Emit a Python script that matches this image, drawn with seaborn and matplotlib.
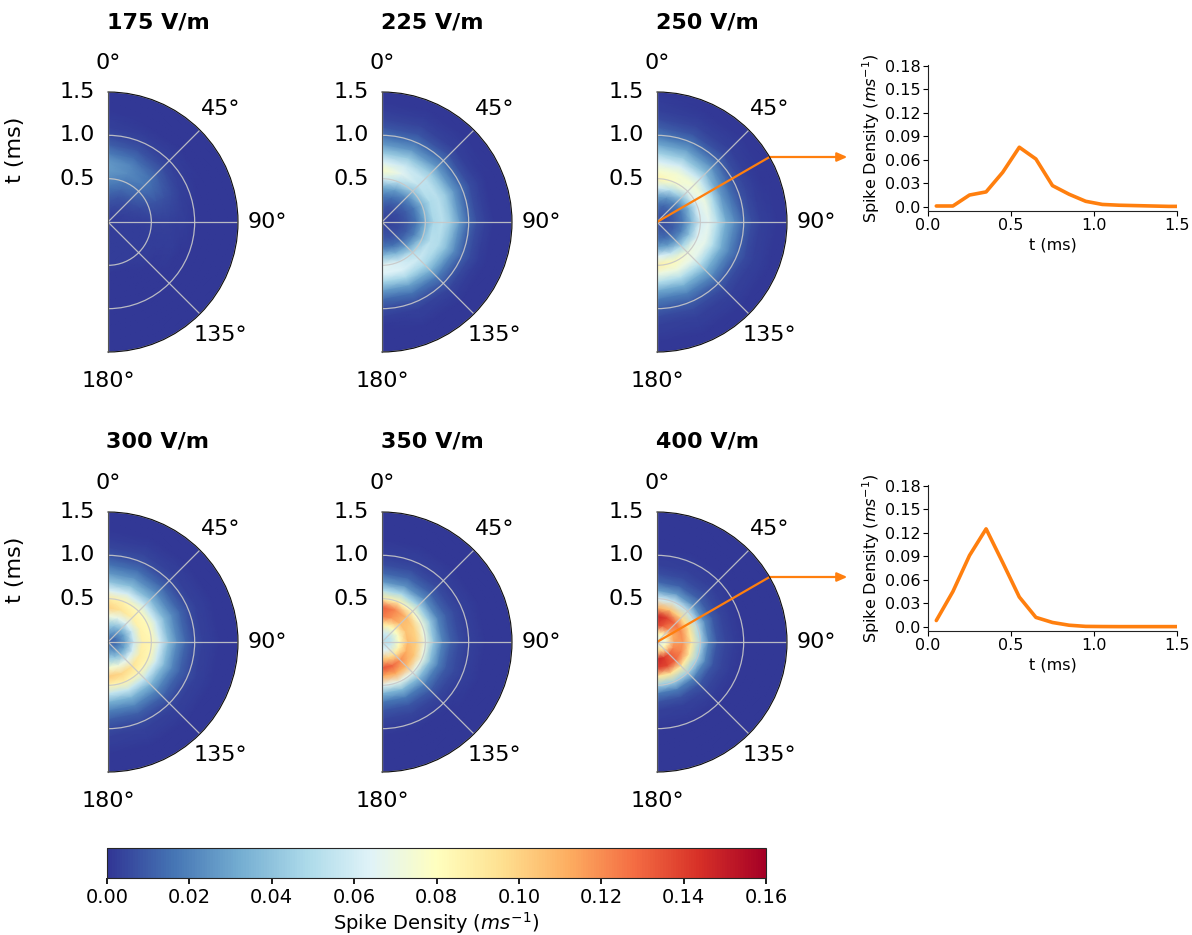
import numpy as np
import pandas as pd
import matplotlib
matplotlib.use("Agg")
import matplotlib.pyplot as plt
import seaborn as sns

# ---------------- data ----------------
field_labels = ["175 V/m", "225 V/m", "250 V/m", "300 V/m", "350 V/m", "400 V/m"]
theta_deg = [0, 22.5, 45, 67.5, 90, 112.5, 135, 157.5, 180]
r_ms = [0.0, 0.1, 0.2, 0.3, 0.4, 0.5, 0.6, 0.7, 0.8, 0.9, 1.0, 1.1, 1.2, 1.3, 1.4, 1.5]

dens_175 = [
    [0.003, 0.004, 0.006, 0.010, 0.016, 0.022, 0.027, 0.026, 0.018, 0.010, 0.005, 0.003, 0.002, 0.001, 0.001, 0.001],
    [0.003, 0.003, 0.005, 0.008, 0.013, 0.018, 0.022, 0.021, 0.014, 0.008, 0.004, 0.002, 0.001, 0.001, 0.001, 0.001],
    [0.003, 0.003, 0.004, 0.006, 0.010, 0.014, 0.017, 0.015, 0.010, 0.006, 0.003, 0.002, 0.001, 0.001, 0.001, 0.001],
    [0.003, 0.002, 0.003, 0.004, 0.005, 0.007, 0.008, 0.007, 0.005, 0.003, 0.002, 0.001, 0.001, 0.001, 0.001, 0.001],
    [0.003, 0.002, 0.002, 0.002, 0.002, 0.003, 0.003, 0.003, 0.002, 0.002, 0.001, 0.001, 0.001, 0.001, 0.001, 0.001],
    [0.003, 0.002, 0.002, 0.002, 0.002, 0.002, 0.002, 0.002, 0.002, 0.001, 0.001, 0.001, 0.001, 0.001, 0.001, 0.001],
    [0.003, 0.002, 0.002, 0.002, 0.002, 0.002, 0.002, 0.001, 0.001, 0.001, 0.001, 0.001, 0.001, 0.001, 0.001, 0.001],
    [0.003, 0.002, 0.002, 0.002, 0.002, 0.002, 0.001, 0.001, 0.001, 0.001, 0.001, 0.001, 0.001, 0.001, 0.001, 0.001],
    [0.003, 0.002, 0.002, 0.002, 0.002, 0.002, 0.001, 0.001, 0.001, 0.001, 0.001, 0.001, 0.001, 0.001, 0.001, 0.001],
]
dens_225 = [
    [0.004, 0.006, 0.010, 0.018, 0.032, 0.060, 0.078, 0.062, 0.042, 0.026, 0.015, 0.008, 0.004, 0.002, 0.001, 0.001],
    [0.004, 0.005, 0.008, 0.015, 0.028, 0.052, 0.066, 0.058, 0.042, 0.026, 0.015, 0.008, 0.004, 0.002, 0.001, 0.001],
    [0.004, 0.004, 0.007, 0.012, 0.022, 0.040, 0.054, 0.054, 0.042, 0.026, 0.015, 0.007, 0.003, 0.002, 0.001, 0.001],
    [0.004, 0.004, 0.006, 0.010, 0.018, 0.034, 0.049, 0.052, 0.042, 0.026, 0.014, 0.006, 0.003, 0.001, 0.001, 0.001],
    [0.004, 0.004, 0.005, 0.009, 0.016, 0.032, 0.048, 0.052, 0.042, 0.026, 0.013, 0.006, 0.003, 0.001, 0.001, 0.001],
    [0.004, 0.004, 0.006, 0.010, 0.020, 0.038, 0.052, 0.050, 0.038, 0.022, 0.011, 0.005, 0.002, 0.001, 0.001, 0.001],
    [0.004, 0.005, 0.007, 0.013, 0.028, 0.050, 0.058, 0.048, 0.033, 0.018, 0.009, 0.004, 0.002, 0.001, 0.001, 0.001],
    [0.004, 0.005, 0.008, 0.016, 0.036, 0.060, 0.063, 0.047, 0.028, 0.015, 0.007, 0.003, 0.002, 0.001, 0.001, 0.001],
    [0.004, 0.006, 0.009, 0.018, 0.040, 0.066, 0.064, 0.045, 0.026, 0.013, 0.006, 0.003, 0.001, 0.001, 0.001, 0.001],
]
dens_250 = [
    [0.008, 0.010, 0.015, 0.030, 0.060, 0.085, 0.075, 0.062, 0.045, 0.030, 0.018, 0.010, 0.005, 0.003, 0.002, 0.001],
    [0.008, 0.009, 0.013, 0.025, 0.052, 0.078, 0.074, 0.060, 0.042, 0.028, 0.016, 0.008, 0.004, 0.002, 0.001, 0.001],
    [0.008, 0.008, 0.012, 0.020, 0.040, 0.068, 0.074, 0.058, 0.038, 0.024, 0.013, 0.006, 0.003, 0.002, 0.001, 0.001],
    [0.008, 0.006, 0.010, 0.018, 0.035, 0.062, 0.070, 0.048, 0.026, 0.015, 0.007, 0.004, 0.002, 0.001, 0.001, 0.001],
    [0.008, 0.006, 0.010, 0.018, 0.036, 0.060, 0.066, 0.050, 0.032, 0.022, 0.012, 0.006, 0.003, 0.002, 0.001, 0.001],
    [0.008, 0.007, 0.011, 0.020, 0.040, 0.065, 0.068, 0.050, 0.032, 0.020, 0.011, 0.005, 0.003, 0.002, 0.001, 0.001],
    [0.008, 0.008, 0.012, 0.024, 0.048, 0.072, 0.068, 0.050, 0.032, 0.020, 0.010, 0.005, 0.003, 0.002, 0.001, 0.001],
    [0.008, 0.009, 0.014, 0.028, 0.058, 0.082, 0.070, 0.050, 0.032, 0.019, 0.010, 0.005, 0.003, 0.002, 0.001, 0.001],
    [0.008, 0.010, 0.015, 0.030, 0.064, 0.088, 0.070, 0.050, 0.030, 0.018, 0.010, 0.005, 0.003, 0.002, 0.001, 0.001],
]
dens_300 = [
    [0.018, 0.028, 0.044, 0.072, 0.100, 0.090, 0.062, 0.040, 0.025, 0.015, 0.008, 0.004, 0.002, 0.001, 0.001, 0.001],
    [0.016, 0.024, 0.040, 0.068, 0.094, 0.085, 0.060, 0.038, 0.024, 0.014, 0.007, 0.004, 0.002, 0.001, 0.001, 0.001],
    [0.013, 0.020, 0.034, 0.062, 0.088, 0.082, 0.058, 0.036, 0.022, 0.012, 0.006, 0.003, 0.002, 0.001, 0.001, 0.001],
    [0.010, 0.016, 0.030, 0.058, 0.086, 0.082, 0.058, 0.036, 0.022, 0.012, 0.006, 0.003, 0.002, 0.001, 0.001, 0.001],
    [0.010, 0.015, 0.029, 0.058, 0.087, 0.084, 0.060, 0.038, 0.022, 0.012, 0.006, 0.003, 0.002, 0.001, 0.001, 0.001],
    [0.010, 0.016, 0.031, 0.060, 0.089, 0.084, 0.058, 0.036, 0.021, 0.011, 0.006, 0.003, 0.002, 0.001, 0.001, 0.001],
    [0.013, 0.020, 0.036, 0.066, 0.094, 0.084, 0.056, 0.034, 0.020, 0.011, 0.005, 0.003, 0.002, 0.001, 0.001, 0.001],
    [0.016, 0.024, 0.042, 0.072, 0.099, 0.086, 0.056, 0.034, 0.020, 0.010, 0.005, 0.003, 0.002, 0.001, 0.001, 0.001],
    [0.018, 0.027, 0.046, 0.076, 0.103, 0.086, 0.055, 0.033, 0.019, 0.010, 0.005, 0.003, 0.002, 0.001, 0.001, 0.001],
]
dens_350 = [
    [0.050, 0.060, 0.090, 0.125, 0.132, 0.090, 0.050, 0.025, 0.012, 0.006, 0.003, 0.002, 0.001, 0.001, 0.001, 0.001],
    [0.050, 0.058, 0.085, 0.118, 0.122, 0.085, 0.048, 0.024, 0.012, 0.006, 0.003, 0.002, 0.001, 0.001, 0.001, 0.001],
    [0.050, 0.055, 0.080, 0.108, 0.108, 0.078, 0.045, 0.022, 0.011, 0.005, 0.003, 0.002, 0.001, 0.001, 0.001, 0.001],
    [0.050, 0.054, 0.078, 0.105, 0.100, 0.072, 0.042, 0.020, 0.010, 0.005, 0.003, 0.002, 0.001, 0.001, 0.001, 0.001],
    [0.050, 0.055, 0.080, 0.108, 0.100, 0.070, 0.040, 0.020, 0.010, 0.005, 0.003, 0.002, 0.001, 0.001, 0.001, 0.001],
    [0.050, 0.057, 0.085, 0.112, 0.104, 0.070, 0.038, 0.019, 0.009, 0.005, 0.003, 0.002, 0.001, 0.001, 0.001, 0.001],
    [0.050, 0.060, 0.092, 0.120, 0.108, 0.068, 0.036, 0.018, 0.009, 0.004, 0.002, 0.001, 0.001, 0.001, 0.001, 0.001],
    [0.050, 0.064, 0.100, 0.130, 0.112, 0.068, 0.035, 0.017, 0.008, 0.004, 0.002, 0.001, 0.001, 0.001, 0.001, 0.001],
    [0.050, 0.066, 0.105, 0.135, 0.112, 0.066, 0.034, 0.016, 0.008, 0.004, 0.002, 0.001, 0.001, 0.001, 0.001, 0.001],
]
dens_400 = [
    [0.060, 0.090, 0.140, 0.148, 0.110, 0.060, 0.028, 0.012, 0.006, 0.003, 0.002, 0.001, 0.001, 0.001, 0.001, 0.001],
    [0.060, 0.085, 0.132, 0.140, 0.105, 0.058, 0.026, 0.011, 0.005, 0.003, 0.002, 0.001, 0.001, 0.001, 0.001, 0.001],
    [0.060, 0.078, 0.120, 0.128, 0.098, 0.054, 0.024, 0.010, 0.005, 0.003, 0.002, 0.001, 0.001, 0.001, 0.001, 0.001],
    [0.060, 0.074, 0.112, 0.120, 0.094, 0.050, 0.022, 0.009, 0.004, 0.002, 0.001, 0.001, 0.001, 0.001, 0.001, 0.001],
    [0.060, 0.075, 0.115, 0.118, 0.090, 0.048, 0.020, 0.008, 0.004, 0.002, 0.001, 0.001, 0.001, 0.001, 0.001, 0.001],
    [0.060, 0.080, 0.122, 0.122, 0.090, 0.046, 0.020, 0.008, 0.004, 0.002, 0.001, 0.001, 0.001, 0.001, 0.001, 0.001],
    [0.060, 0.088, 0.132, 0.130, 0.090, 0.045, 0.019, 0.008, 0.004, 0.002, 0.001, 0.001, 0.001, 0.001, 0.001, 0.001],
    [0.060, 0.095, 0.142, 0.138, 0.092, 0.044, 0.018, 0.007, 0.003, 0.002, 0.001, 0.001, 0.001, 0.001, 0.001, 0.001],
    [0.060, 0.098, 0.148, 0.140, 0.092, 0.044, 0.018, 0.007, 0.003, 0.002, 0.001, 0.001, 0.001, 0.001, 0.001, 0.001],
]
densities = [dens_175, dens_225, dens_250, dens_300, dens_350, dens_400]

# profile along the 60 degree direction
profile_angle_deg = 60
t_line = [0.05, 0.15, 0.25, 0.35, 0.45, 0.55, 0.65, 0.75, 0.85, 0.95, 1.05, 1.15, 1.25, 1.35, 1.45, 1.5]
line_250 = [0.001, 0.001, 0.015, 0.019, 0.044, 0.076, 0.061, 0.027, 0.016, 0.007, 0.003, 0.002, 0.0015, 0.001, 0.0005, 0.0005]
line_400 = [0.008, 0.045, 0.091, 0.125, 0.082, 0.038, 0.012, 0.0055, 0.002, 0.0005, 0.0003, 0.0002, 0.0002, 0.0002, 0.0002, 0.0002]

theta_ticks = [0, 45, 90, 135, 180]
theta_ticklabels = ["0°", "45°", "90°", "135°", "180°"]
r_ticks = [0.5, 1.0, 1.5]
r_ticklabels = ["0.5", "1.0", "1.5"]
line_yticks = [0.0, 0.03, 0.06, 0.09, 0.12, 0.15, 0.18]
line_yticklabels = ["0.0", "0.03", "0.06", "0.09", "0.12", "0.15", "0.18"]
line_xticks = [0.0, 0.5, 1.0, 1.5]
cbar_ticks = [0.00, 0.02, 0.04, 0.06, 0.08, 0.10, 0.12, 0.14, 0.16]

# ---------------- style ----------------
sns.set_theme(style="ticks")
plt.rcParams["font.family"] = ["DejaVu Sans"]
plt.rcParams["mathtext.fontset"] = "dejavusans"
for k in ["text.color", "axes.labelcolor", "xtick.color", "ytick.color"]:
    plt.rcParams[k] = "black"

W, H = 1192, 935
fig = plt.figure(figsize=(W / 100, H / 100), dpi=100)
cmap = plt.get_cmap("RdYlBu_r")
orange = "#ff7f0e"

# polar panel geometry (pixels): left edge x of wedge, top y, radius
panel_left = [108, 382, 657, 108, 382, 657]
panel_top = [92, 92, 92, 512, 512, 512]
R = 130

T, Rg = np.meshgrid(np.deg2rad(theta_deg), r_ms, indexing="ij")
mappable = None
polar_axes = []
for i in range(6):
    x0, y0 = panel_left[i], panel_top[i]
    rect = [(x0 - R / 2) / W, 1 - (y0 + 2 * R) / H, 2 * R / W, 2 * R / H]
    ax = fig.add_axes(rect, projection="polar")
    ax.set_theta_zero_location("N")
    ax.set_theta_direction(-1)
    ax.set_thetamin(0)
    ax.set_thetamax(180)
    ax.set_facecolor(cmap(0.0))
    ax.set_axisbelow(False)
    mappable = ax.pcolormesh(T, Rg, np.array(densities[i]), cmap=cmap,
                             vmin=0, vmax=0.16, shading="gouraud")
    ax.set_ylim(0, 1.5)
    ax.set_yticks(r_ticks)
    ax.set_yticklabels(r_ticklabels)
    ax.set_xticks(np.deg2rad(theta_ticks))
    ax.set_xticklabels(theta_ticklabels)
    ax.tick_params(axis="x", labelsize=16, pad=8)
    ax.tick_params(axis="y", labelsize=16)
    ax.grid(True, color="#c8c8c8", lw=0.9, alpha=0.9)
    for name, sp in ax.spines.items():
        sp.set_zorder(10)
        sp.set_linewidth(0.8)
        sp.set_color("#111111" if name == "polar" else "#555555")
    fig.text((x0 + 50) / W, 1 - (y0 - 70) / H, field_labels[i],
             fontsize=16, fontweight="bold", ha="center", va="center")
    polar_axes.append(ax)

for yc in [150, 570]:
    fig.text(15 / W, 1 - yc / H, "t (ms)", rotation=90, fontsize=16,
             ha="center", va="center")

# orange direction lines + arrows
for ax in [polar_axes[2], polar_axes[5]]:
    th = np.deg2rad(profile_angle_deg)
    ax.plot([th, th], [0, 1.5], color=orange, lw=1.6, zorder=5)
    ax.annotate("", xy=(th, 1.5), xycoords="data",
                xytext=(56, 0), textcoords="offset points",
                arrowprops=dict(arrowstyle="<|-,head_length=0.5,head_width=0.22",
                                color=orange, lw=1.6, shrinkA=0, shrinkB=0),
                annotation_clip=False)

# line plots
line_rects = [[928 / W, 1 - 210.7 / H, 249 / W, 145.7 / H],
              [928 / W, 1 - 630.7 / H, 249 / W, 145.7 / H]]
for rect, vals in zip(line_rects, [line_250, line_400]):
    lax = fig.add_axes(rect)
    df = pd.DataFrame({"t": t_line, "d": vals})
    sns.lineplot(data=df, x="t", y="d", ax=lax, color=orange, lw=2.6)
    lax.set_xlim(0, 1.5)
    lax.set_ylim(-0.005, 0.181)
    lax.set_yticks(line_yticks)
    lax.set_yticklabels(line_yticklabels)
    lax.set_xticks(line_xticks)
    lax.set_xticklabels(["0.0", "0.5", "1.0", "1.5"])
    lax.tick_params(labelsize=11.5, length=3.5, width=0.8, pad=2)
    lax.set_xlabel("t (ms)", fontsize=11.5, labelpad=3)
    lax.set_ylabel("Spike Density ($ms^{-1}$)", fontsize=11.5, labelpad=2)
    for sp in ["left", "bottom"]:
        lax.spines[sp].set_linewidth(0.8)
        lax.spines[sp].set_color("#222222")
    sns.despine(ax=lax)

# colorbar
cax = fig.add_axes([107 / W, 1 - 878 / H, 659 / W, 30 / H])
cb = fig.colorbar(mappable, cax=cax, orientation="horizontal")
cb.set_ticks(cbar_ticks)
cb.set_ticklabels([f"{v:.2f}" for v in cbar_ticks])
cb.ax.tick_params(labelsize=14, length=4)
cb.set_label("Spike Density ($ms^{-1}$)", fontsize=14, labelpad=2)
cb.outline.set_linewidth(0.8)

fig.savefig("out.png", dpi=100)
